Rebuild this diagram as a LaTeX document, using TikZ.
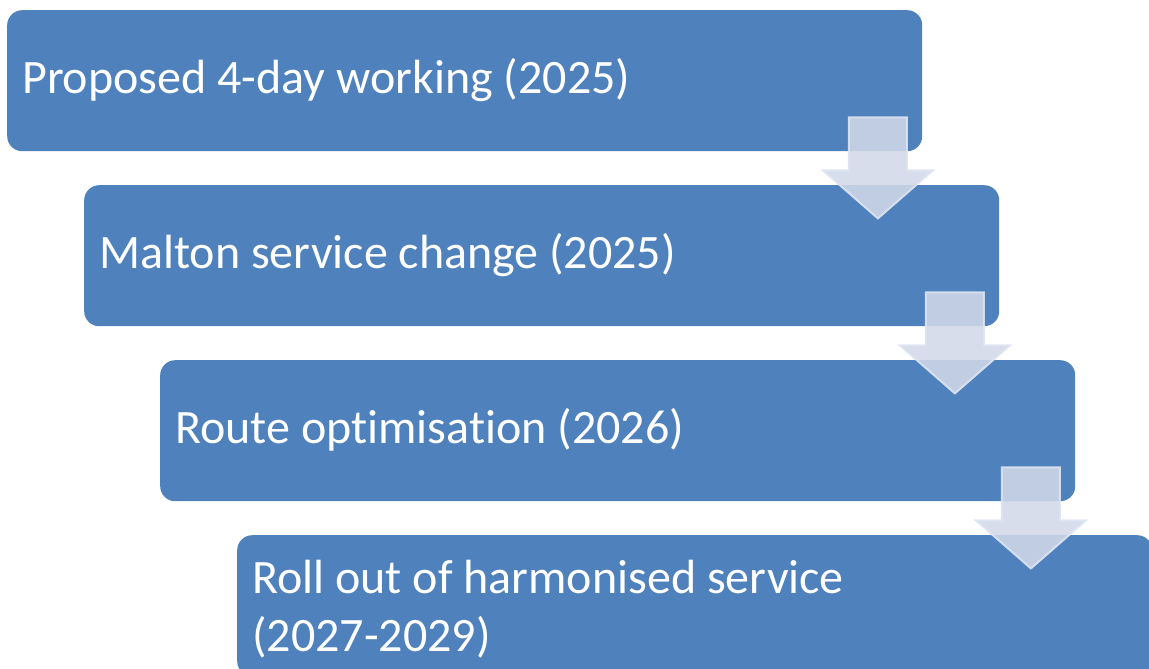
\documentclass[tikz,border=0pt]{standalone}
\usepackage{fontspec}
\setmainfont{Carlito}[Ligatures=NoCommon]
\definecolor{boxblue}{RGB}{79,129,189}
\definecolor{arrfill}{RGB}{209,216,232}
\definecolor{arrline}{RGB}{222,228,241}
\tikzset{
  stepbox/.style={fill=boxblue, draw=none, rounded corners=15pt, minimum width=915pt, minimum height=141pt, anchor=north west, inner sep=0pt},
  lbl/.style={text=white, font=\fontsize{48}{58}\selectfont, anchor=base west, inner sep=0pt, align=left},
  arrowsty/.style={fill=arrfill, fill opacity=0.88, draw=arrline, draw opacity=0.9, line width=2pt, line join=miter},
  pics/flowarr/.style={code={\draw[arrowsty] (-29,0) -- (29,0) -- (29,53) -- (55,53) -- (0,101) -- (-55,53) -- (-29,53) -- cycle;}}
}
\begin{document}
\begin{tikzpicture}[x=1pt, y=-1pt]
\useasboundingbox (0,0) rectangle (1149,669);
\clip (0,0) rectangle (1149,669);
\node[stepbox] (b1) at (7,10) {};
\node[stepbox] (b2) at (84,185) {};
\node[stepbox] (b3) at (160,360) {};
\node[stepbox] (b4) at (237,535) {};
\node[lbl] (t1) at (22,93) {Proposed 4-day working (2025)};
\node[lbl] (t2) at (99,268) {Malton service change (2025)};
\node[lbl] (t3) at (175,443) {Route optimisation (2026)};
\node[lbl, anchor=north west] (t4) at (252,560) {Roll out of harmonised service\\(2027-2029)};
\pic at ([shift={(-44.5,-34)}]b1.south east) {flowarr};
\pic at ([shift={(-44.5,-34)}]b2.south east) {flowarr};
\pic at ([shift={(-44.5,-34)}]b3.south east) {flowarr};
\end{tikzpicture}
\end{document}
